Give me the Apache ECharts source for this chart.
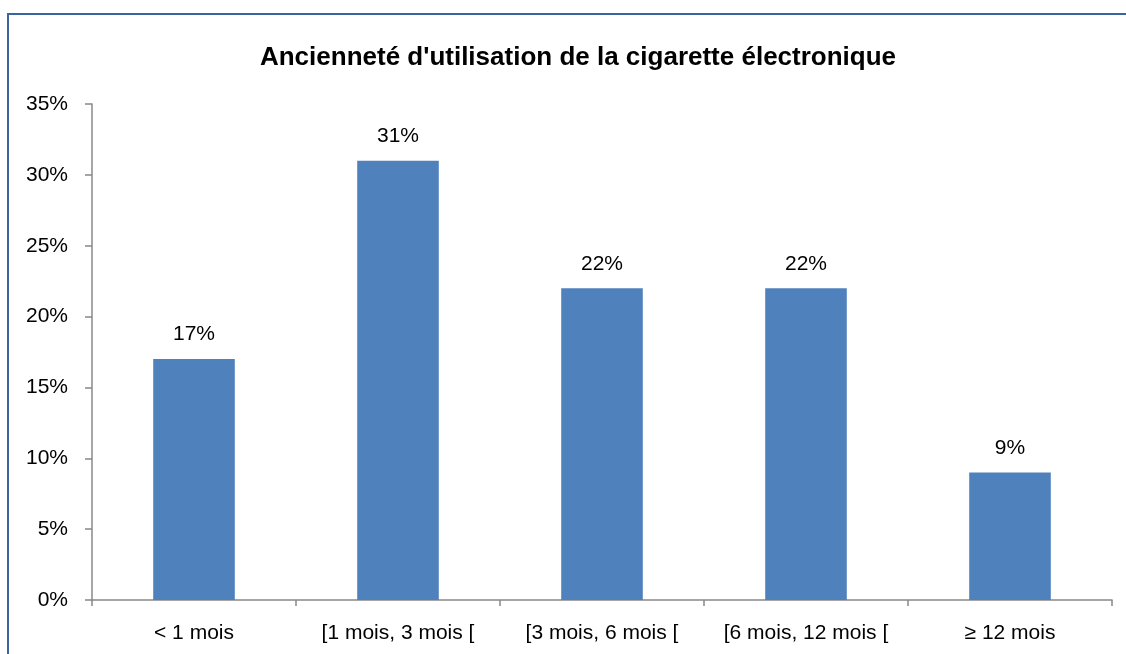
<!DOCTYPE html>
<html>
<head>
<meta charset="utf-8">
<script src="https://cdn.jsdelivr.net/npm/echarts@6/dist/echarts.min.js"></script>
<style>
html,body{margin:0;padding:0;background:#fff;}
#chart{width:1126px;height:654px;}
</style>
</head>
<body>
<div id="chart"></div>
<script>
const categories = ['< 1 mois', '[1 mois, 3 mois [', '[3 mois, 6 mois [', '[6 mois, 12 mois [', '≥ 12 mois'];
const values = [17, 31, 22, 22, 9];
const titleText = "Ancienneté d'utilisation de la cigarette électronique";

const FONT = '"Liberation Sans Narrow", "Arial Narrow", "Liberation Sans", sans-serif';
const chart = echarts.init(document.getElementById('chart'));
chart.setOption({
  animation: false,
  backgroundColor: '#fff',
  graphic: [{
    type: 'rect',
    shape: {x: 8, y: 14, width: 1140, height: 700},
    style: {fill: 'none', stroke: '#3a64a0', lineWidth: 2},
    silent: true, z: -1
  }],
  title: {
    text: titleText,
    left: 573, top: 40, textAlign: 'center',
    textStyle: {fontFamily: FONT, fontSize: 26, fontWeight: 'bold', color: '#000'}
  },
  grid: {left: 92, right: 14, top: 104, bottom: 54, containLabel: false},
  xAxis: {
    type: 'category',
    data: categories,
    axisLine: {lineStyle: {color: '#888', width: 1.5}},
    axisTick: {show: true, alignWithLabel: false, length: 6, lineStyle: {color: '#888', width: 1.5}},
    axisLabel: {fontFamily: FONT, fontSize: 21, color: '#000', margin: 23, interval: 0}
  },
  yAxis: {
    type: 'value',
    min: 0, max: 35, interval: 5,
    axisLine: {show: true, lineStyle: {color: '#888', width: 1.5}},
    axisTick: {show: true, length: 7, lineStyle: {color: '#888', width: 1.5}},
    splitLine: {show: false},
    axisLabel: {fontFamily: FONT, fontSize: 21, color: '#000', margin: 24, formatter: '{value}%'}
  },
  series: [{
    type: 'bar',
    data: values,
    barWidth: '40%',
    itemStyle: {color: '#4f81bd'},
    label: {
      show: true, position: 'top', distance: 14,
      formatter: '{c}%',
      fontFamily: FONT, fontSize: 21, color: '#000'
    }
  }]
});
</script>
</body>
</html>
